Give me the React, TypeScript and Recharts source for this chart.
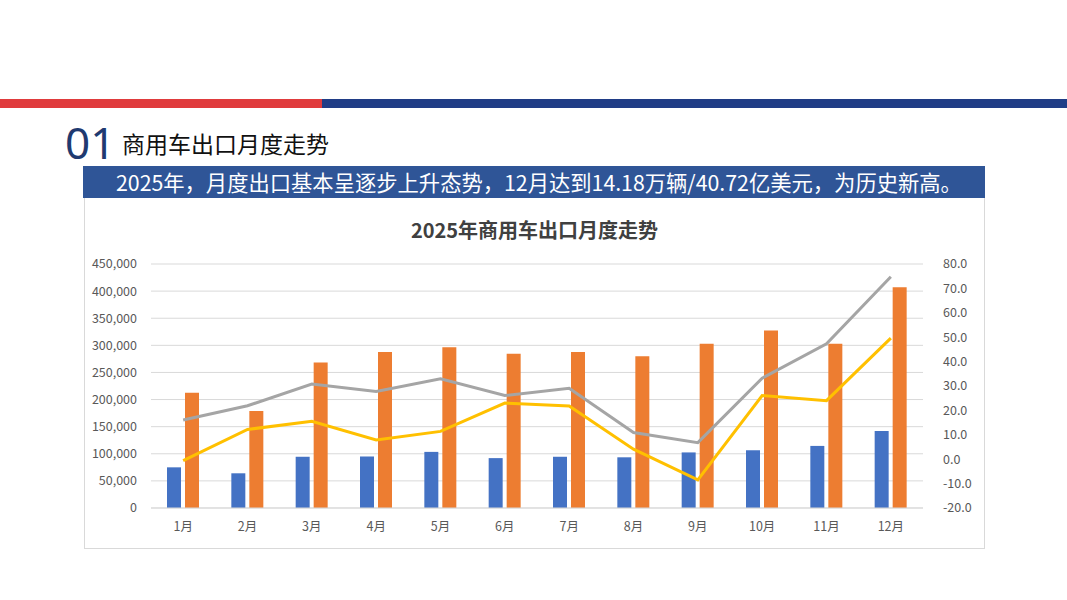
import { ComposedChart, Bar, Line, XAxis, YAxis, CartesianGrid } from 'recharts';

const months = ['1月', '2月', '3月', '4月', '5月', '6月', '7月', '8月', '9月', '10月', '11月', '12月'];
const volume = [75000, 64000, 94500, 95000, 103500, 92000, 94500, 93500, 102500, 106500, 114500, 141800];
const value = [212500, 179000, 268500, 287500, 296500, 284500, 287500, 280000, 302800, 327500, 303000, 407200];
const valueGrowth = [16.1, 21.9, 30.8, 27.8, 33.0, 26.1, 29.1, 10.9, 6.8, 33.2, 47.3, 74.8];
const volumeGrowth = [-0.6, 12.2, 15.5, 7.9, 11.4, 23.0, 21.8, 4.1, -8.5, 26.1, 24.0, 49.6];
const leftTicks = [0, 50000, 100000, 150000, 200000, 250000, 300000, 350000, 400000, 450000];
const rightTicks = [-20, -10, 0, 10, 20, 30, 40, 50, 60, 70, 80];

const data = months.map((m, i) => ({
  month: m,
  volume: volume[i],
  value: value[i],
  valueGrowth: valueGrowth[i],
  volumeGrowth: volumeGrowth[i],
}));

const font = '"Noto Sans CJK SC", "Noto Sans", sans-serif';
const tickStyle = { fontSize: 12.5, fill: '#595959', fontFamily: font };

export default function App() {
  return (
    <div style={{ position: 'absolute', left: 0, top: 0, width: 1067, height: 600, background: '#fff', overflow: 'hidden', fontFamily: font }}>
      <div style={{ position: 'absolute', left: 0, top: 99, width: 322, height: 9, background: '#e03b3d' }} />
      <div style={{ position: 'absolute', left: 322, top: 99, width: 745, height: 9, background: '#203d86' }} />
      <div style={{ position: 'absolute', left: 65, top: 114, fontSize: 44, lineHeight: '56px', color: '#1f3a70', fontFamily: '"Noto Sans", sans-serif', fontWeight: 400 }}>01</div>
      <div style={{ position: 'absolute', left: 122, top: 127, fontSize: 23, lineHeight: '32px', color: '#111' }}>商用车出口月度走势</div>
      <div style={{ position: 'absolute', left: 83, top: 166, width: 902, height: 32, background: '#2f5597', color: '#fff', fontSize: 21.3, lineHeight: '32px', paddingLeft: 33, boxSizing: 'border-box', whiteSpace: 'nowrap' }}>
        2025年，月度出口基本呈逐步上升态势，12月达到14.18万辆/40.72亿美元，为历史新高。
      </div>
      <div style={{ position: 'absolute', left: 84, top: 198, width: 901, height: 351, border: '1px solid #d9d9d9', borderTop: 'none', boxSizing: 'border-box' }} />
      <div style={{ position: 'absolute', left: 84, top: 216, width: 901, textAlign: 'center', fontSize: 20, fontWeight: 700, color: '#404040', lineHeight: '28px' }}>
        2025年商用车出口月度走势
      </div>
      <div style={{ position: 'absolute', left: 84, top: 198 }}>
        <ComposedChart width={901} height={351} data={data} margin={{ top: 66, right: 0, bottom: 0, left: 0 }} barSize={14} barGap={4}>
          <CartesianGrid yAxisId="left" vertical={false} stroke="#d9d9d9" />
          <XAxis dataKey="month" height={41} tick={tickStyle} tickLine={false} axisLine={{ stroke: '#d9d9d9' }} tickMargin={8} />
          <YAxis
            yAxisId="left"
            width={67}
            domain={[0, 450000]}
            ticks={leftTicks}
            tick={tickStyle}
            tickLine={false}
            axisLine={false}
            tickMargin={8}
            tickFormatter={(v: number) => v.toLocaleString('en-US')}
          />
          <YAxis
            yAxisId="right"
            orientation="right"
            width={62}
            domain={[-20, 80]}
            ticks={rightTicks}
            tick={tickStyle}
            tickLine={false}
            axisLine={false}
            tickMargin={14}
            tickFormatter={(v: number) => v.toFixed(1)}
          />
          <Bar yAxisId="left" dataKey="volume" name="出口量（辆）" fill="#4472c4" isAnimationActive={false} />
          <Bar yAxisId="left" dataKey="value" name="出口额（万美元）" fill="#ed7d31" isAnimationActive={false} />
          <Line yAxisId="right" dataKey="valueGrowth" name="出口额同比（%）" stroke="#a5a5a5" strokeWidth={3} dot={false} type="linear" isAnimationActive={false} />
          <Line yAxisId="right" dataKey="volumeGrowth" name="出口量同比（%）" stroke="#ffc000" strokeWidth={3} dot={false} type="linear" isAnimationActive={false} />
        </ComposedChart>
      </div>
    </div>
  );
}
